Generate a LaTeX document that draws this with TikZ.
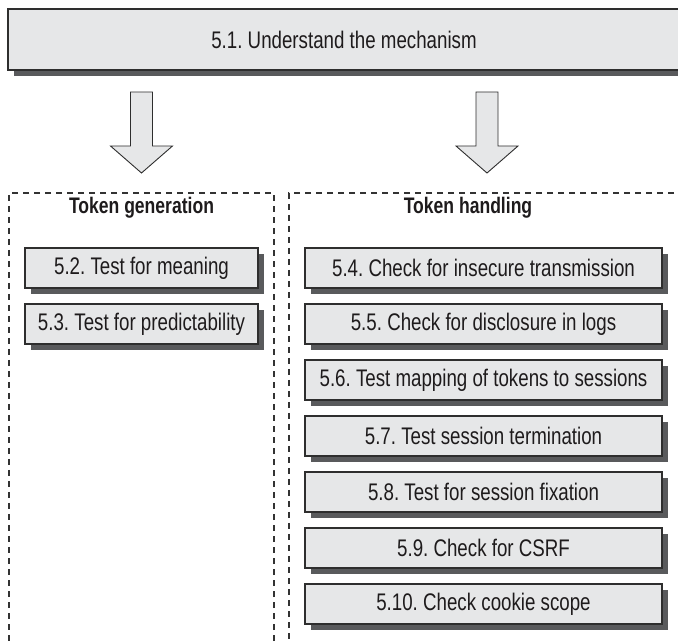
\documentclass[tikz,border=0pt]{standalone}
\usepackage{fontspec}
\setmainfont{Liberation Sans}[FakeStretch=0.78]
\usetikzlibrary{shadows}
\frenchspacing
\definecolor{boxfill}{HTML}{E6E7E8}
\definecolor{boxline}{HTML}{2E2E2E}
\definecolor{shadowgray}{HTML}{595A5C}
\definecolor{txt}{HTML}{1E1B1C}
\definecolor{dashgray}{HTML}{333333}
\tikzset{
  stepbox/.style={draw=boxline, line width=1.1pt, fill=boxfill, text=txt,
    minimum height=40pt, inner sep=0pt, font=\fontsize{24}{26}\selectfont,
    drop shadow={shadow xshift=6pt, shadow yshift=-6pt, fill=shadowgray, opacity=1}},
  leftbox/.style={stepbox, minimum width=233pt},
  rightbox/.style={stepbox, minimum width=357pt},
  group/.style={draw=dashgray, line width=1.2pt, dash pattern=on 6pt off 5pt, inner sep=0pt},
  heading/.style={text=txt, font=\fontsize{22.5}{24}\selectfont\bfseries, inner sep=0pt},
  blockarrow/.style={draw=boxline, line width=0.9pt, fill=boxfill, line join=miter}
}
\begin{document}
\begin{tikzpicture}[x=1pt,y=-1pt]
\frenchspacing
\useasboundingbox (0,0) rectangle (678,644);
\clip (0,0) rectangle (678,644);
% top box
\node[stepbox, minimum width=672pt, minimum height=61pt] (top) at (344,39.5) {5.1. Understand the mechanism};
% groups
\node[group, minimum width=265pt, minimum height=480pt] (gen) at (141.5,433) {};
\node[group, minimum width=420pt, minimum height=480pt] (hand) at (499,433) {};
\node[heading] (genh) at (141.5,208) {Token generation};
\node[heading] (handh) at (468,208) {Token handling};
% block arrows
\coordinate (a1) at (141.5,92);
\coordinate (a2) at (487,92);
\foreach \c in {a1,a2}{
  \draw[blockarrow] ([xshift=-11pt]\c) -- ([xshift=11pt]\c) -- ([xshift=11pt,yshift=-54pt]\c)
    -- ([xshift=31pt,yshift=-54pt]\c) -- ([yshift=-81pt]\c) -- ([xshift=-31pt,yshift=-54pt]\c)
    -- ([xshift=-11pt,yshift=-54pt]\c) -- cycle;
}
% left boxes
\node[leftbox] (s52) at (141.5,268) {5.2. Test for meaning};
\node[leftbox] (s53) at (141.5,324) {5.3. Test for predictability};
% right boxes
\node[rightbox] (s54) at (483.5,268) {5.4. Check for insecure transmission};
\node[rightbox] (s55) at (483.5,324) {5.5. Check for disclosure in logs};
\node[rightbox] (s56) at (483.5,380) {5.6. Test mapping of tokens to sessions};
\node[rightbox] (s57) at (483.5,436) {5.7. Test session termination};
\node[rightbox] (s58) at (483.5,492) {5.8. Test for session fixation};
\node[rightbox] (s59) at (483.5,548) {5.9. Check for CSRF};
\node[rightbox] (s510) at (483.5,604) {5.10. Check cookie scope};
\end{tikzpicture}
\end{document}
